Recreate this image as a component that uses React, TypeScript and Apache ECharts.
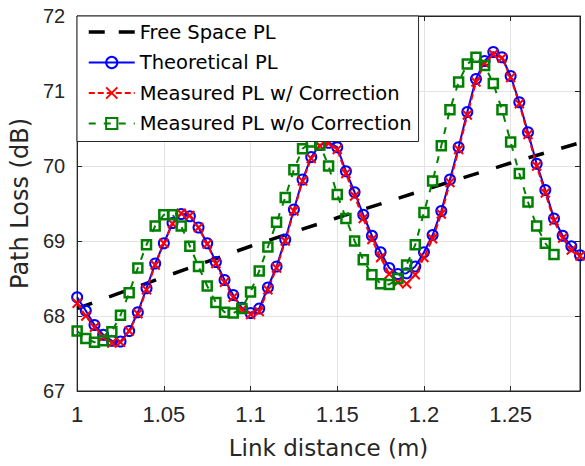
import React, { useEffect, useRef } from "react";
import * as echarts from "echarts";

// Link distance (m), sampled every 5 mm
const distance = [
  1.0, 1.005, 1.01, 1.015, 1.02, 1.025, 1.03, 1.035, 1.04, 1.045,
  1.05, 1.055, 1.06, 1.065, 1.07, 1.075, 1.08, 1.085, 1.09, 1.095,
  1.1, 1.105, 1.11, 1.115, 1.12, 1.125, 1.13, 1.135, 1.14, 1.145,
  1.15, 1.155, 1.16, 1.165, 1.17, 1.175, 1.18, 1.185, 1.19, 1.195,
  1.2, 1.205, 1.21, 1.215, 1.22, 1.225, 1.23, 1.235, 1.24, 1.245,
  1.25, 1.255, 1.26, 1.265, 1.27, 1.275, 1.28, 1.285, 1.29,
];

const theoreticalPL = [
  68.25, 68.07, 67.88, 67.75, 67.67, 67.66, 67.8, 68.05, 68.37, 68.7,
  68.97, 69.24, 69.36, 69.33, 69.18, 68.97, 68.72, 68.48, 68.28, 68.11,
  68.04, 68.1, 68.38, 68.66, 69.02, 69.42, 69.82, 70.12, 70.28, 70.31,
  70.25, 69.93, 69.65, 69.35, 69.07, 68.85, 68.64, 68.56, 68.57, 68.66,
  68.85, 69.08, 69.4, 69.82, 70.25, 70.72, 71.16, 71.4, 71.52, 71.45,
  71.2, 70.85, 70.45, 70.03, 69.68, 69.3, 69.07, 68.93, 68.81,
];

const measuredCorrected = [
  68.17, 68.0, 67.85, 67.72, 67.64, 67.65, 67.8, 68.03, 68.35, 68.68,
  68.97, 69.23, 69.37, 69.34, 69.18, 68.96, 68.7, 68.45, 68.25, 68.08,
  68.02, 68.06, 68.35, 68.64, 69.0, 69.4, 69.8, 70.1, 70.27, 70.3,
  70.22, 69.9, 69.6, 69.3, 69.02, 68.78, 68.56, 68.45, 68.43, 68.55,
  68.78, 69.03, 69.36, 69.78, 70.22, 70.68, 71.12, 71.37, 71.49, 71.44,
  71.18, 70.83, 70.42, 70.0, 69.64, 69.27, 69.04, 68.88, 68.8,
];

// measured without correction: 1.000 .. 1.275 m
const measuredUncorrected = [
  67.8, 67.7, 67.65, 67.67, 67.79, 68.01, 68.31, 68.64, 68.95, 69.2,
  69.35, 69.35, 69.2, 68.93, 68.66, 68.4, 68.18, 68.05, 68.04, 68.1,
  68.32, 68.6, 68.92, 69.25, 69.58, 69.95, 70.23, 70.32, 70.28, 70.0,
  69.62, 69.3, 69.0, 68.75, 68.55, 68.43, 68.42, 68.5, 68.68, 68.95,
  69.38, 69.8, 70.27, 70.75, 71.12, 71.36, 71.45, 71.34, 71.1, 70.75,
  70.32, 69.9, 69.52, 69.2, 68.97, 68.82,
];

const freeSpaceDistance = [1.0, 1.05, 1.1, 1.15, 1.2, 1.25, 1.29];
const freeSpacePL = [68.1, 68.52, 68.93, 69.31, 69.68, 70.04, 70.31];

const seriesNames = [
  "Free Space PL",
  "Theoretical PL",
  "Measured PL w/ Correction",
  "Measured PL w/o Correction",
];

const xTitle = "Link distance (m)";
const yTitle = "Path Loss (dB)";

function pairs(xs: number[], ys: number[]) {
  return ys.map((y, i) => [xs[i], y]);
}

const AXIS = "#262626";
const GRID = "#e3e3e3";
const BLUE = "#0000ff";
const RED = "#ff0000";
const GREEN = "#008000";

export default function App() {
  const ref = useRef<HTMLDivElement>(null);

  useEffect(() => {
    document.body.style.margin = "0";
    if (!ref.current) return;
    const chart = echarts.init(ref.current, undefined, { renderer: "svg" });

    const tickFont = "Liberation Sans";
    const titleFont = "DejaVu Sans";

    const option: any = {
      animation: false,
      backgroundColor: "#fff",
      grid: {
        left: 77,
        right: 5,
        top: 16,
        bottom: 75,
        show: true,
        borderColor: AXIS,
        borderWidth: 1,
        backgroundColor: "#fff",
      },
      legend: {
        orient: "vertical",
        left: 77,
        top: 16,
        padding: [6, 7, 8, 10],
        itemWidth: 46,
        itemHeight: 14,
        itemGap: 10.5,
        backgroundColor: "#fff",
        borderColor: AXIS,
        borderWidth: 1,
        borderRadius: 0,
        textStyle: { fontFamily: titleFont, fontSize: 19.5, color: "#000" },
        data: [
          {
            name: seriesNames[0],
            itemStyle: { color: "rgba(0,0,0,0)", borderWidth: 0, opacity: 0 },
            lineStyle: { color: "#000", width: 3.5, type: [16, 14] },
          },
          { name: seriesNames[1] },
          { name: seriesNames[2] },
          { name: seriesNames[3] },
        ],
      },
      xAxis: [
        {
          type: "value",
          min: 1,
          max: 1.29,
          interval: 0.05,
          position: "bottom",
          axisLine: { show: true, lineStyle: { color: AXIS, width: 1 } },
          axisTick: { show: true, inside: true, length: 5, lineStyle: { color: AXIS } },
          axisLabel: {
            showMaxLabel: false,
            fontFamily: tickFont,
            fontSize: 22,
            color: AXIS,
            margin: 12,
            formatter: (v: number) => String(+v.toFixed(2)),
          },
          splitLine: { show: true, lineStyle: { color: GRID, width: 1 } },
          name: xTitle,
          nameLocation: "middle",
          nameGap: 45,
          nameTextStyle: { fontFamily: titleFont, fontSize: 23, color: AXIS },
        },
        {
          type: "value",
          min: 1,
          max: 1.29,
          interval: 0.05,
          position: "top",
          axisLine: { show: true, lineStyle: { color: AXIS, width: 1 } },
          axisTick: { show: true, inside: true, length: 5, lineStyle: { color: AXIS } },
          axisLabel: { show: false },
          splitLine: { show: false },
        },
      ],
      yAxis: [
        {
          type: "value",
          min: 67,
          max: 72,
          interval: 1,
          position: "left",
          axisLine: { show: true, lineStyle: { color: AXIS, width: 1 } },
          axisTick: { show: true, inside: true, length: 5, lineStyle: { color: AXIS } },
          axisLabel: { fontFamily: tickFont, fontSize: 20, color: AXIS, margin: 12 },
          splitLine: { show: true, lineStyle: { color: GRID, width: 1 } },
          name: yTitle,
          nameLocation: "middle",
          nameGap: 37,
          nameTextStyle: { fontFamily: titleFont, fontSize: 24, color: AXIS },
        },
        {
          type: "value",
          min: 67,
          max: 72,
          interval: 1,
          position: "right",
          axisLine: { show: true, lineStyle: { color: AXIS, width: 1 } },
          axisTick: { show: true, inside: true, length: 5, lineStyle: { color: AXIS } },
          axisLabel: { show: false },
          splitLine: { show: false },
        },
      ],
      series: [
        {
          name: seriesNames[0],
          type: "line",
          data: pairs(freeSpaceDistance, freeSpacePL),
          showSymbol: false,
          symbol: "none",
          lineStyle: { color: "#000", width: 3.5, type: [16, 18] },
          itemStyle: { color: "#000" },
        },
        {
          name: seriesNames[1],
          type: "line",
          data: pairs(distance, theoreticalPL),
          symbol: "circle",
          symbolSize: 10,
          lineStyle: { color: BLUE, width: 2 },
          itemStyle: { color: "rgba(255,255,255,0)", borderColor: BLUE, borderWidth: 2 },
        },
        {
          name: seriesNames[2],
          type: "line",
          data: pairs(distance, measuredCorrected),
          symbol: "path://M0,0L10,10M10,0L0,10",
          symbolSize: 9,
          lineStyle: { color: RED, width: 2, type: [6, 3] },
          itemStyle: { color: "rgba(255,255,255,0)", borderColor: RED, borderWidth: 2 },
        },
        {
          name: seriesNames[3],
          type: "line",
          data: pairs(distance, measuredUncorrected),
          symbol: "rect",
          symbolSize: 9,
          lineStyle: { color: GREEN, width: 2, type: [7, 8] },
          itemStyle: { color: "rgba(255,255,255,0)", borderColor: GREEN, borderWidth: 2.5 },
        },
      ],
    };

    chart.setOption(option);
    return () => chart.dispose();
  }, []);

  return <div ref={ref} style={{ width: 585, height: 466 }} />;
}
